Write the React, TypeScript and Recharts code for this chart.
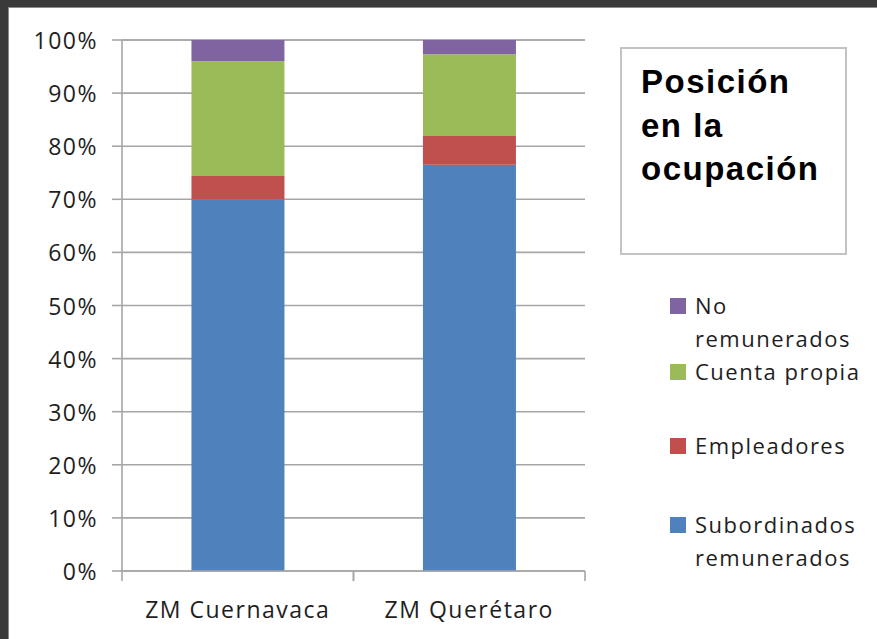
import { BarChart, Bar, XAxis, YAxis, CartesianGrid, Legend } from "recharts";

const categories = ["ZM Cuernavaca", "ZM Querétaro"];
const subordinados = [70.0, 76.5];
const empleadores = [4.4, 5.4];
const cuentaPropia = [21.6, 15.4];
const noRemunerados = [4.0, 2.7];
const yTicks = [0, 10, 20, 30, 40, 50, 60, 70, 80, 90, 100];
// legend reads top-down, opposite to the stack
const legendOrder = ["noRemunerados", "cuentaPropia", "empleadores", "subordinados"];

const data = categories.map((name, i) => ({
  name,
  subordinados: subordinados[i],
  empleadores: empleadores[i],
  cuentaPropia: cuentaPropia[i],
  noRemunerados: noRemunerados[i],
}));

const AXIS_GRAY = "#a6a6a6";
const TEXT = "#1e1e1e";
const FONT = "'Open Sans', sans-serif";

const YTick = ({ x, y, payload }: any) => (
  <text
    x={x}
    y={y}
    textAnchor="end"
    dominantBaseline="central"
    fontFamily={FONT}
    fontSize={23}
    letterSpacing={1.5}
    fill={TEXT}
  >
    {payload.value}%
  </text>
);

// category label plus Excel-style tick marks at the band boundaries
const CatTick = ({ x, y, payload }: any) => {
  const half = payload.offset ?? 0;
  return (
    <g>
      <line x1={x - half} x2={x - half} y1={y - 10} y2={y} stroke={AXIS_GRAY} strokeWidth={1.6} />
      <line x1={x + half} x2={x + half} y1={y - 10} y2={y} stroke={AXIS_GRAY} strokeWidth={1.6} />
      <text
        x={x}
        y={y + 37}
        textAnchor="middle"
        fontFamily={FONT}
        fontSize={23}
        letterSpacing={1.5}
        fill={TEXT}
      >
        {payload.value}
      </text>
    </g>
  );
};

const itemGaps = [0, 0, 41, 46];

const LegendContent = ({ payload }: any) => {
  const items = legendOrder
    .map((k) => (payload || []).find((p: any) => p.dataKey === k))
    .filter(Boolean);
  return (
    <div style={{ fontFamily: FONT, fontSize: 22, letterSpacing: 1.5, color: TEXT, lineHeight: "33px" }}>
      {items.map((it: any, i: number) => (
        <div key={it.value} style={{ display: "flex", marginTop: itemGaps[i] }}>
          <div style={{ width: 16, height: 16, background: it.color, marginTop: 9, marginRight: 9, flexShrink: 0 }} />
          <div style={{ width: 175 }}>{it.value}</div>
        </div>
      ))}
    </div>
  );
};

export default function App() {
  return (
    <div style={{ position: "absolute", left: 0, top: 0, width: 877, height: 639, background: "#3a3a3a" }}>
      <div
        style={{
          position: "absolute",
          left: 8,
          top: 7,
          right: 0,
          bottom: 0,
          background: "#fff",
          borderLeft: "1px solid #8a8a8a",
          borderTop: "1px solid #8a8a8a",
        }}
      />
      <div style={{ position: "absolute", left: 0, top: 0 }}>
        <BarChart
          width={877}
          height={639}
          data={data}
          margin={{ top: 40, right: 292, left: 12, bottom: 8 }}
          barCategoryGap="30%"
        >
          <CartesianGrid vertical={false} stroke={AXIS_GRAY} strokeWidth={1.6} />
          <XAxis
            dataKey="name"
            height={60}
            axisLine={{ stroke: AXIS_GRAY, strokeWidth: 1.6 }}
            tickLine={false}
            tickSize={10}
            tickMargin={0}
            tick={<CatTick />}
            interval={0}
          />
          <YAxis
            width={110}
            domain={[0, 100]}
            ticks={yTicks}
            interval={0}
            axisLine={{ stroke: AXIS_GRAY, strokeWidth: 1.6 }}
            tickLine={{ stroke: AXIS_GRAY, strokeWidth: 1.6 }}
            tickSize={10}
            tickMargin={14}
            tick={<YTick />}
          />
          <Legend
            layout="vertical"
            align="center"
            verticalAlign="middle"
            content={<LegendContent />}
            wrapperStyle={{ left: 670, top: 289, width: 205 }}
          />
          <Bar dataKey="subordinados" name="Subordinados remunerados" stackId="a" fill="#4f81bd" isAnimationActive={false} />
          <Bar dataKey="empleadores" name="Empleadores" stackId="a" fill="#c0504d" isAnimationActive={false} />
          <Bar dataKey="cuentaPropia" name="Cuenta propia" stackId="a" fill="#9bbb59" isAnimationActive={false} />
          <Bar dataKey="noRemunerados" name="No remunerados" stackId="a" fill="#8064a2" isAnimationActive={false} />
        </BarChart>
      </div>
      <div
        style={{
          position: "absolute",
          left: 620,
          top: 47,
          width: 227,
          height: 208,
          boxSizing: "border-box",
          border: "2px solid #c3c3c3",
          background: "#fff",
          paddingTop: 11,
          paddingLeft: 19,
          fontFamily: "'Liberation Sans', Arial, sans-serif",
          fontWeight: "bold",
          fontSize: 33,
          letterSpacing: 1.5,
          lineHeight: "43.5px",
          color: "#000",
        }}
      >
        Posición
        <br />
        en la
        <br />
        ocupación
      </div>
    </div>
  );
}
